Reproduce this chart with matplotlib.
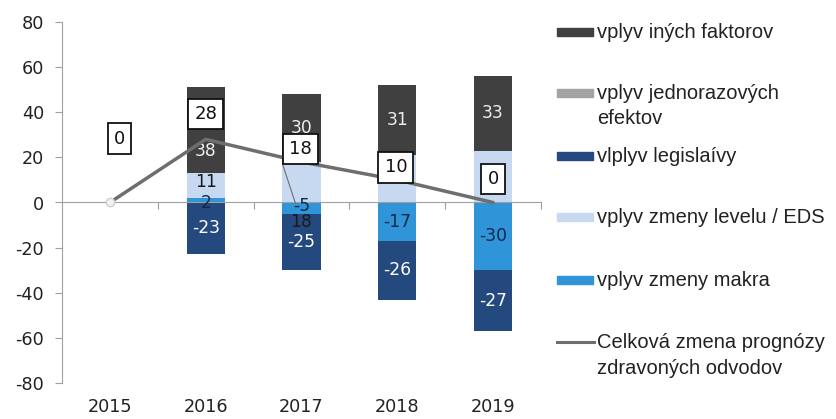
import matplotlib
matplotlib.use('Agg')
import matplotlib.pyplot as plt
import numpy as np
from matplotlib.patches import Rectangle
from matplotlib.lines import Line2D

# ---------------- data ----------------
years = ['2015', '2016', '2017', '2018', '2019']
inych = [0, 38, 30, 31, 33]          # vplyv iných faktorov
jednoraz = [0, 0, 0, 0, 0]           # vplyv jednorazových efektov
legis = [0, -23, -25, -26, -27]      # vlplyv legislaívy
levelu = [0, 11, 18, 21, 23]         # vplyv zmeny levelu / EDS
makra = [0, 2, -5, -17, -30]         # vplyv zmeny makra
celkova = [0, 28, 18, 10, 0]         # Celková zmena prognózy

legend_labels = ['vplyv iných faktorov', 'vplyv jednorazových\nefektov',
                 'vlplyv legislaívy', 'vplyv zmeny levelu / EDS',
                 'vplyv zmeny makra',
                 'Celková zmena prognózy\nzdravoných odvodov']

# ---------------- style ----------------
C_INY = '#404040'
C_JED = '#a3a3a3'
C_LEG = '#24497f'
C_LEV = '#c6d9f0'
C_MAK = '#2f94d8'
C_LINE = '#6e6e6e'
C_AX = '#a0a0a0'
NUMFONT = ['DejaVu Sans']

plt.rcParams['font.family'] = ['Liberation Sans', 'DejaVu Sans']
plt.rcParams['axes.unicode_minus'] = False

fig = plt.figure(figsize=(8.37, 4.19), dpi=100)
ax = fig.add_axes([62/837, 1-383/419, (541-62)/837, (383-22)/419])

x = np.arange(len(years))
W = 0.40

# order of stacking; (values, color, label color, label shown flags)
series = [
    (makra, C_MAK, '#14284a', [True]*5),
    (levelu, C_LEV, '#1a1a1a', [True, True, True, False, False]),
    (legis, C_LEG, 'white', [True]*5),
    (jednoraz, C_JED, 'white', [True]*5),
    (inych, C_INY, '#eeeeee', [True]*5),
]

pos_b = np.zeros(len(x))
neg_b = np.zeros(len(x))
for vals, col, lcol, shown in series:
    v = np.array(vals, dtype=float)
    bottom = np.where(v >= 0, pos_b, neg_b)
    ax.bar(x, v, W, bottom=bottom, color=col, zorder=2)
    for i in range(len(x)):
        if v[i] == 0 or not shown[i]:
            continue
        yc = bottom[i] + v[i] / 2
        # small nudges where labels crowd each other
        if vals is inych and i == 1:
            yc = 23
        if vals is levelu and i == 1:
            yc = 9
        if vals is makra and i == 1:
            yc = 0
        if vals is makra and i == 2:
            yc = -1.5
        if vals is levelu and i == 2:
            ax.annotate(f'{int(v[i])}', xy=(x[i] - 0.2, 17.3), xytext=(x[i], -8.5),
                        ha='center', va='center', fontsize=12.3, color=lcol, zorder=4,
                        family=NUMFONT,
                        arrowprops=dict(arrowstyle='-', color=C_LINE, lw=0.8,
                                        shrinkA=5, shrinkB=0))
            continue
        ax.text(x[i], yc, f'{int(v[i])}', ha='center', va='center',
                fontsize=12.3, color=lcol, zorder=3, family=NUMFONT)
    pos_b = np.where(v >= 0, pos_b + v, pos_b)
    neg_b = np.where(v < 0, neg_b + v, neg_b)

# total line
ax.plot(x, celkova, color=C_LINE, lw=2.5, zorder=5, solid_capstyle='round')
ax.plot(x[0], celkova[0], marker='o', ms=6, mfc='#f2f2f2', mec='#cfcfcf', zorder=6)

# boxed labels for the line
box_offsets = [(7, 46), (0, 18), (-1, 9.5), (-1, 9), (0, 17)]
for i in range(len(x)):
    ax.annotate(f'{celkova[i]}', xy=(x[i], celkova[i]), xytext=box_offsets[i],
                textcoords='offset points', ha='center', va='center',
                fontsize=13, color='#111111', zorder=7, family=NUMFONT,
                bbox=dict(boxstyle='square,pad=0.34', fc='white', ec='#111111', lw=1.3))

# axes formatting
ax.set_xlim(-0.5, 4.5)
ax.set_ylim(-80, 80)
ax.set_yticks(np.arange(-80, 81, 20))
ax.tick_params(axis='y', direction='out', length=5, color=C_AX, pad=8,
               labelsize=12.7, labelcolor='#222222')
for lab in ax.get_yticklabels():
    lab.set_family(NUMFONT)
for s in ['top', 'right']:
    ax.spines[s].set_visible(False)
ax.spines['left'].set_color(C_AX)
ax.spines['bottom'].set_color(C_AX)
ax.spines['bottom'].set_position(('data', 0))
ax.set_xticks(np.arange(0.5, 4.6, 1.0))
ax.set_xticklabels([])
ax.tick_params(axis='x', direction='out', length=5, color=C_AX)

sec = ax.secondary_xaxis('bottom')
sec.set_xticks(x, labels=years)
sec.tick_params(length=0, pad=11, labelsize=12.7, labelcolor='#222222')
for lab in sec.get_xticklabels():
    lab.set_family(NUMFONT)
sec.spines['bottom'].set_visible(False)

# legend drawn manually
leg_colors = [C_INY, C_JED, C_LEG, C_LEV, C_MAK]
row_y = [32, 93, 156, 217, 280, 342]
LINE_STEP = 26
for k, lab in enumerate(legend_labels):
    yy = 1 - row_y[k] / 419
    if k < 5:
        fig.patches.append(Rectangle((557/837, yy - 4/419), 36/837, 8/419,
                                     transform=fig.transFigure, color=leg_colors[k]))
    else:
        fig.lines.append(Line2D([557/837, 594/837], [yy, yy], transform=fig.transFigure,
                                color=C_LINE, lw=2.2))
    for j, line in enumerate(lab.split('\n')):
        fig.text(597/837, 1 - (row_y[k] + j * LINE_STEP) / 419, line,
                 ha='left', va='center', fontsize=14.5, color='#222222')

fig.savefig('out.png', dpi=100)
